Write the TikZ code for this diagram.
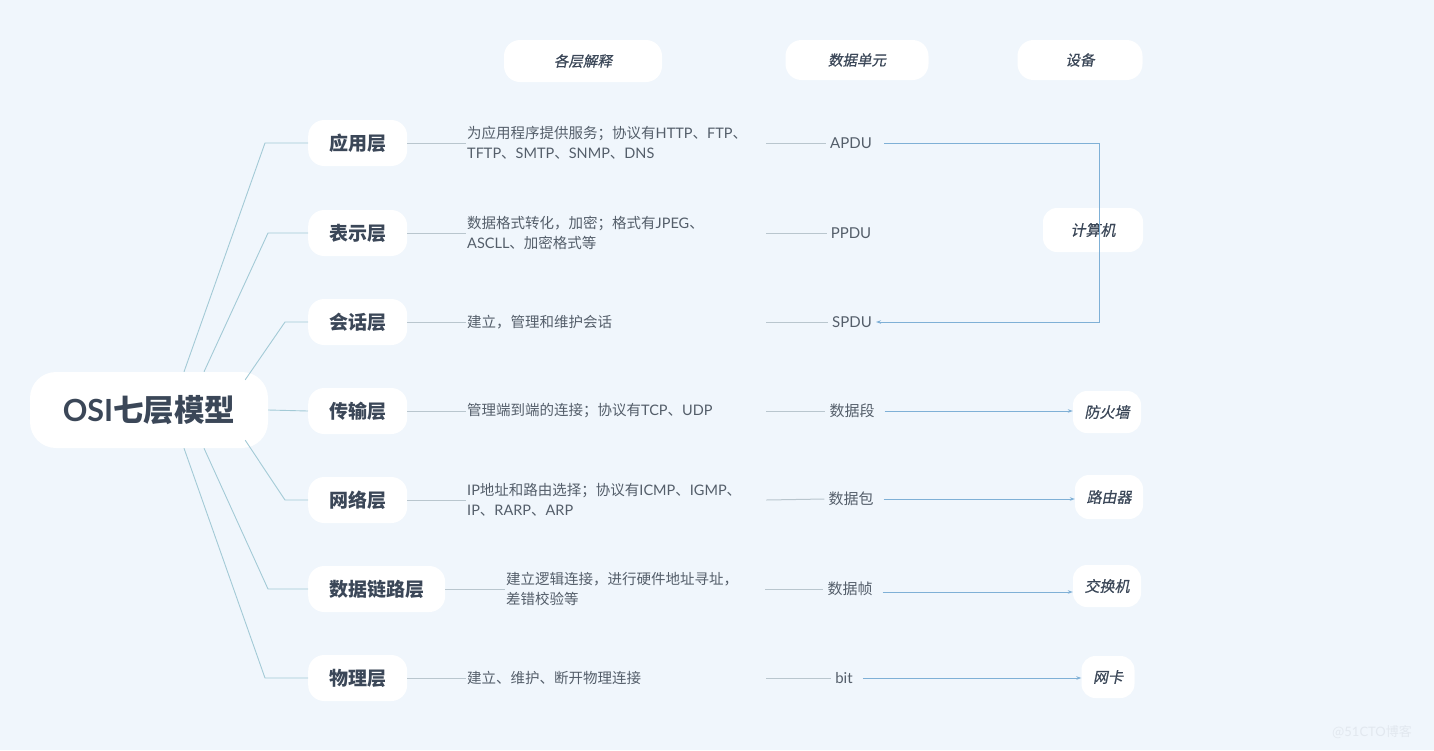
\documentclass[tikz,border=0pt]{standalone}
\usepackage{fontspec}
\setmainfont{Noto Sans CJK SC}
\newfontfamily\latfont{Lato}
\newfontfamily\slantfont[FakeSlant=0.2,FakeBold=0.6]{Noto Sans CJK SC}
\usetikzlibrary{positioning,arrows.meta}

\definecolor{bgblue}{HTML}{F0F6FC}
\definecolor{inkdark}{HTML}{3B4758}
\definecolor{inkgrey}{HTML}{545E6A}
\definecolor{branchblue}{HTML}{A3CAD6}
\definecolor{tiegrey}{HTML}{B9C6CE}
\definecolor{flowblue}{HTML}{7FB0D6}
\definecolor{markgrey}{HTML}{E2E8EF}

\tikzset{
  root/.style={fill=white, rounded corners=26pt, minimum width=238pt, minimum height=76pt,
    font=\fontsize{30.5}{30.5}\selectfont\bfseries, text=inkdark},
  layer/.style={fill=white, rounded corners=16pt, minimum height=46pt, inner xsep=21pt,
    anchor=west, font=\fontsize{19}{19}\selectfont\bfseries, text=inkdark},
  desc/.style={anchor=west, text width=298pt, align=left, inner sep=1pt,
    font=\fontsize{14.5}{20}\selectfont, text=inkgrey},
  unit/.style={inner sep=4pt, font=\fontsize{15}{15}\selectfont, text=inkgrey},
  head/.style={fill=white, rounded corners=16pt, minimum height=42pt,
    font=\slantfont\fontsize{14.5}{14.5}\selectfont, text=inkdark},
  device/.style={fill=white, rounded corners=14pt, minimum height=42pt, inner xsep=11.5pt,
    font=\slantfont\fontsize{15}{15}\selectfont, text=inkdark},
  branch/.style={draw=branchblue, line width=0.9pt},
  tie/.style={draw=tiegrey, line width=1pt},
  flow/.style={draw=flowblue, line width=0.9pt, -{Stealth[length=5pt,width=3.5pt]}, shorten <=6pt}
}

\begin{document}
\begin{tikzpicture}[x=1pt, y=-1pt]
  % page and background
  \useasboundingbox[fill=bgblue] (0,0) rectangle (1434,750);

  % column heads
  \node[head, minimum width=158pt] (hdesc) at (583,61) {各层解释};
  \node[head, minimum width=143pt, minimum height=40pt] (hunit) at (857,60) {数据单元};
  \node[head, minimum width=125pt, minimum height=40pt] (hdev) at (1080,60) {设备};

  % the model
  \node[root] (root) at (149,410) {{\latfont OSI}七层模型};

  % the seven layers
  \node[layer] (app) at (308,143) {应用层};
  \node[layer] (pres) at (308,233) {表示层};
  \node[layer] (sess) at (308,322) {会话层};
  \node[layer] (trans) at (308,411) {传输层};
  \node[layer] (net) at (308,500) {网络层};
  \node[layer] (dll) at (308,589) {数据链路层};
  \node[layer] (phys) at (308,678) {物理层};

  % branches from the model
  \draw[branch] ([xshift=35pt]root.north) -- ([xshift=-43pt]app.west) -- (app.west);
  \draw[branch] ([xshift=55pt]root.north) -- ([xshift=-40pt]pres.west) -- (pres.west);
  \draw[branch] ([shift={(-23pt,-8pt)}]root.north east) -- ([xshift=-23pt]sess.west) -- (sess.west);
  \draw[branch] (root.east) -- (trans.west);
  \draw[branch] ([shift={(-23pt,8pt)}]root.south east) -- ([xshift=-23pt]net.west) -- (net.west);
  \draw[branch] ([xshift=55pt]root.south) -- ([xshift=-40pt]dll.west) -- (dll.west);
  \draw[branch] ([xshift=35pt]root.south) -- ([xshift=-43pt]phys.west) -- (phys.west);

  % what each layer does
  \node[desc] (appdesc) at (466,143) {为应用程序提供服务；协议有{\latfont HTTP}、{\latfont FTP}、\\{\latfont TFTP}、{\latfont SMTP}、{\latfont SNMP}、{\latfont DNS}};
  \node[desc] (presdesc) at (466,233) {数据格式转化，加密；格式有{\latfont JPEG}、\\{\latfont ASCLL}、加密格式等};
  \node[desc] (sessdesc) at (466,322) {建立，管理和维护会话};
  \node[desc] (transdesc) at (466,411) {管理端到端的连接；协议有{\latfont TCP}、{\latfont UDP}};
  \node[desc] (netdesc) at (466,500) {{\latfont IP}地址和路由选择；协议有{\latfont ICMP}、{\latfont IGMP}、\\{\latfont IP}、{\latfont RARP}、{\latfont ARP}};
  \node[desc, text width=258pt] (dlldesc) at (505,589) {建立逻辑连接，进行硬件地址寻址，\\差错校验等};
  \node[desc] (physdesc) at (466,678) {建立、维护、断开物理连接};

  \foreach \lay in {app,pres,sess,trans,net,dll,phys}
    \draw[tie] (\lay.east) -- (\lay desc.west);

  % data units
  \node[unit] (apdu) at (851,143) {\latfont APDU};
  \node[unit] (ppdu) at (851,233) {\latfont PPDU};
  \node[unit] (spdu) at (852,322) {\latfont SPDU};
  \node[unit] (seg) at (852,411) {数据段};
  \node[unit] (pkt) at (851,499) {数据包};
  \node[unit] (frame) at (850,589) {数据帧};
  \node[unit] (bits) at (844,678) {\latfont bit};

  \draw[tie] (appdesc.east) -- (apdu.west);
  \draw[tie] (presdesc.east) -- (ppdu.west);
  \draw[tie] (sessdesc.east) -- (spdu.west);
  \draw[tie] (transdesc.east) -- (seg.west);
  \draw[tie] (netdesc.east) -- (pkt.west);
  \draw[tie] (dlldesc.east) -- (frame.west);
  \draw[tie] (physdesc.east) -- (bits.west);

  % devices
  \node[device, minimum width=100pt, minimum height=44pt] (pc) at (1093,230) {计算机};
  \node[device] (fw) at (1107,412) {防火墙};
  \node[device, minimum height=44pt] (router) at (1109,497) {路由器};
  \node[device] (switch) at (1107,586) {交换机};
  \node[device] (nic) at (1108,677) {网卡};

  % units to devices
  \coordinate (bend) at (1099,143);
  \draw[flow, shorten <=8pt] (apdu.east) -- (bend) |- (spdu.east);
  \draw[flow] (seg.east) -- (seg.east -| fw.west);
  \draw[flow] (pkt.east) -- (pkt.east -| router.west);
  \draw[flow] ([yshift=-3pt]frame.east) -- ([yshift=-3pt]frame.east -| switch.west);
  \draw[flow] (bits.east) -- (bits.east -| nic.west);

  % watermark
  \node[text=markgrey, font=\fontsize{13}{13}\selectfont] (mark) at (1372,732) {@{\latfont 51CTO}博客};
\end{tikzpicture}
\end{document}
